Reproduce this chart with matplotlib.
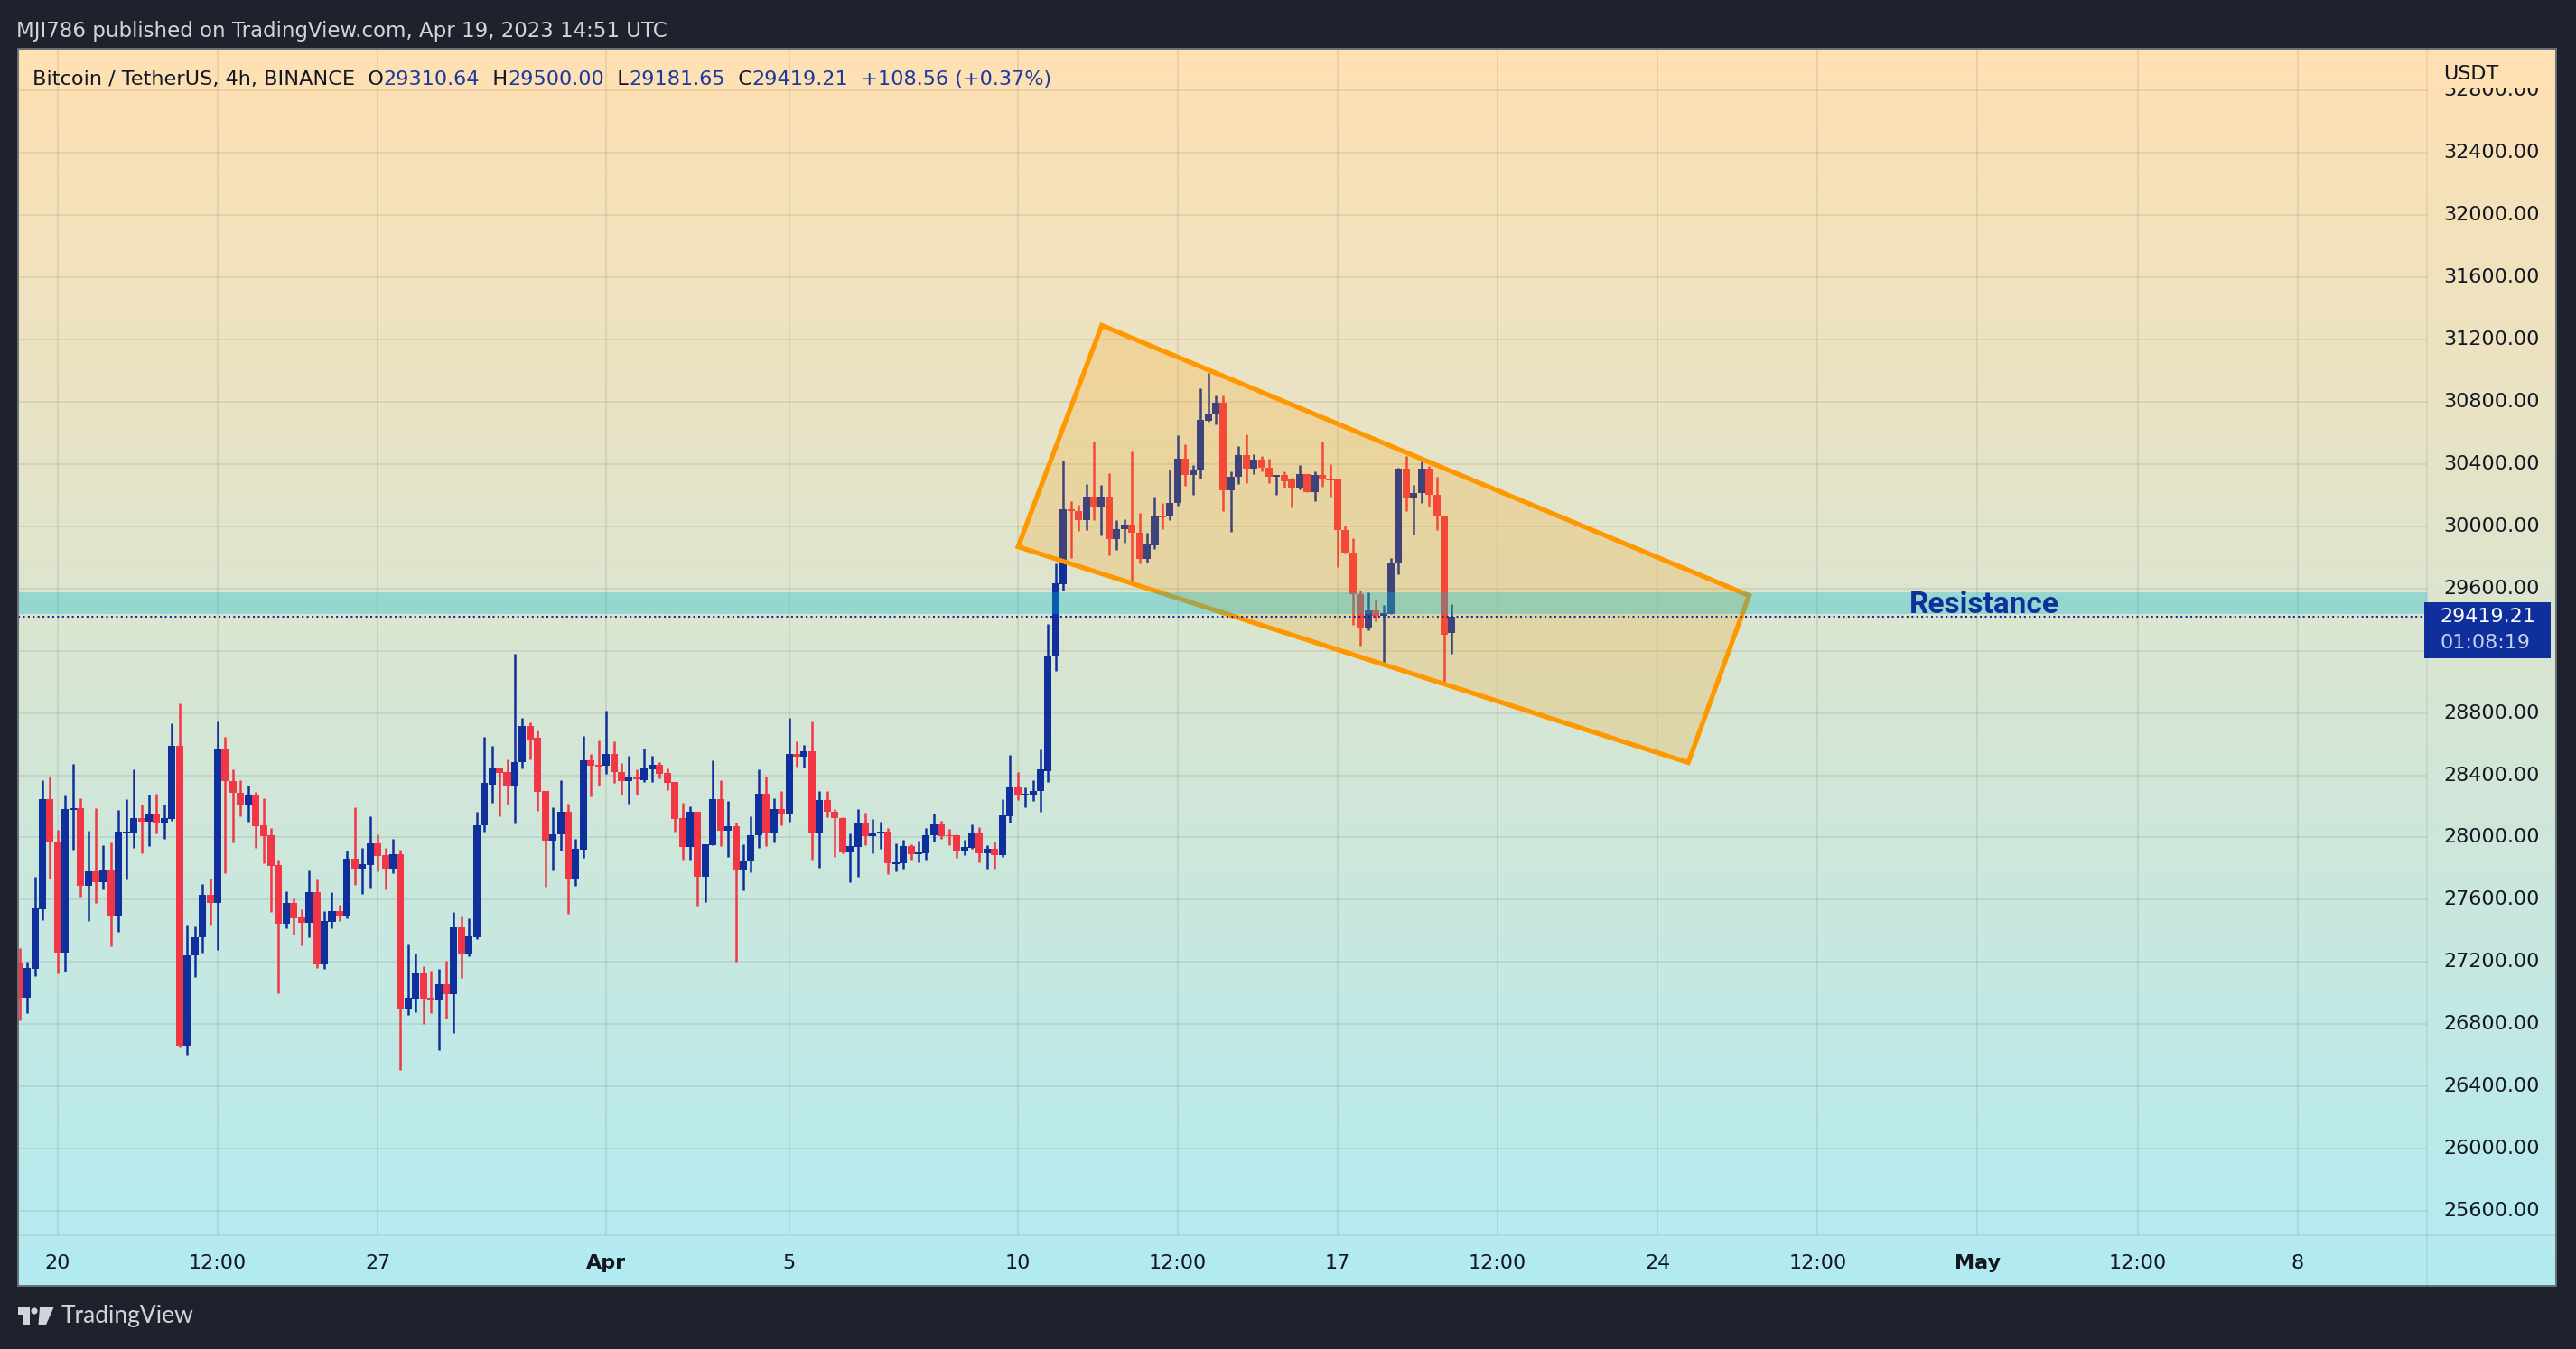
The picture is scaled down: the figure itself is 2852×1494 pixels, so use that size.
import numpy as np
import pandas as pd
import matplotlib
matplotlib.use("Agg")
import matplotlib.pyplot as plt
import matplotlib.dates as mdates
from matplotlib.patches import Polygon, Rectangle, Circle

# BTCUSDT 4h candles, 2023-03-19 04:00 -> 2023-04-19 12:00
start_time = "2023-03-19 04:00"
opens = [27193, 26969, 27158, 27539, 28249, 27973, 27260, 28178, 28188, 27689,
         27780, 27712, 27786, 27496, 28029, 28029, 28122, 28101, 28151, 28093,
         28116, 28591, 26661, 27245, 27357, 27629, 27579, 28574, 28362, 28288,
         28211, 28273, 28076, 28012, 27821, 27444, 27579, 27486, 27450, 27647,
         27183, 27457, 27525, 27496, 27861, 27797, 27821, 27965, 27884, 27797,
         27890, 26899, 26963, 27125, 26969, 26957, 27055, 26994, 27421, 27254,
         27357, 28076, 28342, 28441, 28418, 28336, 28487, 28719, 28638, 28296,
         27977, 28018, 28163, 27728, 27921, 28493, 28466, 28460, 28539, 28423,
         28365, 28394, 28371, 28440, 28469, 28412, 28354, 28122, 27938, 28168,
         27747, 27950, 28249, 28042, 28075, 27793, 27845, 28014, 28284, 28025,
         28185, 28156, 28539, 28518, 28551, 28025, 28238, 28168, 28127, 27903,
         27938, 28089, 28008, 28025, 28037, 27830, 27834, 27944, 27892, 27897,
         28014, 28083, 28014, 28014, 27915, 27932, 28025, 27897, 27927, 27886,
         28135, 28319, 28269, 28272, 28296, 28429, 29163, 29627, 30108, 30098,
         30040, 30187, 30118, 30191, 29915, 29979, 30012, 29959, 29789, 29878,
         30068, 30062, 30149, 30433, 30326, 30361, 30678, 30723, 30794, 30230,
         30317, 30458, 30369, 30427, 30375, 30317, 30326, 30297, 30240, 30336,
         30216, 30326, 30301, 30297, 29973, 29832, 29563, 29347, 29461, 29422,
         29438, 29766, 30369, 30176, 30211, 30369, 30201, 30066, 29310.64]
highs = [27287, 27200, 27747, 28371, 28389, 28052, 28267, 28470, 28255, 28041,
         28188, 27948, 27967, 28174, 28244, 28435, 28209, 28278, 28284, 28209,
         28731, 28864, 27438, 27426, 27699, 27734, 28748, 28644, 28435, 28371,
         28331, 28290, 28250, 28058, 27855, 27652, 27606, 27539, 27786, 27728,
         27525, 27647, 27566, 27913, 28192, 27931, 28139, 28018, 27931, 27994,
         27919, 27311, 27253, 27171, 27142, 27154, 27206, 27519, 27490, 27479,
         28163, 28644, 28586, 28452, 28499, 29180, 28771, 28742, 28690, 28296,
         28192, 28371, 28215, 27989, 28655, 28539, 28626, 28817, 28620, 28481,
         28522, 28440, 28574, 28527, 28487, 28446, 28359, 28226, 28199, 28168,
         27959, 28498, 28371, 28232, 28093, 27959, 28139, 28440, 28394, 28255,
         28301, 28771, 28620, 28597, 28748, 28301, 28296, 28180, 28130, 28025,
         28182, 28162, 28116, 28100, 28060, 27961, 27984, 27954, 27979, 28060,
         28152, 28110, 28054, 28019, 27985, 28083, 28064, 27950, 27973, 28245,
         28530, 28423, 28319, 28371, 28568, 29374, 29762, 30423, 30160, 30137,
         30272, 30545, 30265, 30342, 30037, 30046, 30481, 30085, 29959, 30191,
         30149, 30365, 30585, 30525, 30394, 30887, 30983, 30839, 30839, 30350,
         30514, 30591, 30462, 30448, 30433, 30326, 30353, 30313, 30394, 30336,
         30353, 30545, 30400, 30307, 30002, 29921, 29588, 29577, 29529, 29496,
         29795, 30375, 30452, 30265, 30413, 30384, 30317, 30066, 29500.00]
lows = [26824, 26872, 27110, 27471, 27738, 27125, 27139, 27921, 27618, 27463,
        27579, 27666, 27299, 27394, 27730, 27933, 27898, 27944, 28025, 27994,
        28107, 26652, 26603, 27104, 27260, 27440, 27278, 27768, 27967, 28134,
        28099, 27931, 27832, 27519, 26997, 27415, 27374, 27305, 27357, 27160,
        27154, 27415, 27461, 27479, 27693, 27635, 27670, 27780, 27664, 27768,
        26505, 26859, 26876, 26800, 26870, 26632, 26835, 26742, 27096, 27235,
        27345, 28035, 28226, 28134, 28209, 28087, 28441, 28499, 28170, 27681,
        27786, 27913, 27507, 27687, 27867, 28263, 28336, 28408, 28350, 28278,
        28215, 28278, 28354, 28354, 28377, 28302, 28037, 27857, 27857, 27561,
        27585, 27950, 27944, 27874, 27202, 27660, 27776, 27932, 27944, 27967,
        28077, 28100, 28454, 28448, 27857, 27805, 28129, 27874, 27900, 27712,
        27747, 27950, 27898, 27926, 27764, 27781, 27799, 27857, 27840, 27857,
        27973, 27990, 27950, 27868, 27886, 27926, 27839, 27799, 27799, 27874,
        28095, 28240, 28193, 28234, 28168, 28354, 29070, 29588, 29793, 29967,
        29973, 30037, 29940, 29810, 29847, 29892, 29646, 29758, 29766, 29851,
        29979, 30037, 30133, 30259, 30201, 30303, 30670, 30651, 30095, 29963,
        30268, 30278, 30336, 30350, 30278, 30199, 30249, 30118, 30234, 30216,
        30158, 30255, 30187, 29735, 29828, 29364, 29235, 29331, 29389, 29119,
        29438, 29689, 30095, 29944, 30147, 30124, 29975, 29003, 29181.65]
closes = [26969, 27162, 27544, 28249, 27969, 27260, 28182, 28186, 27689, 27780,
          27712, 27786, 27496, 28035, 28039, 28122, 28101, 28151, 28093, 28122,
          28591, 26661, 27245, 27357, 27629, 27579, 28574, 28362, 28288, 28211,
          28273, 28072, 28008, 27817, 27444, 27579, 27481, 27450, 27647, 27183,
          27461, 27525, 27496, 27861, 27797, 27826, 27965, 27879, 27797, 27890,
          26899, 26969, 27125, 26963, 26957, 27055, 26994, 27421, 27254, 27363,
          28081, 28348, 28441, 28414, 28336, 28487, 28719, 28632, 28290, 27977,
          28023, 28163, 27728, 27925, 28493, 28460, 28456, 28539, 28418, 28365,
          28394, 28375, 28446, 28469, 28406, 28350, 28118, 27938, 28168, 27747,
          27955, 28249, 28042, 28075, 27793, 27851, 28017, 28284, 28025, 28185,
          28156, 28539, 28518, 28551, 28025, 28238, 28164, 28124, 27903, 27944,
          28089, 28008, 28031, 28037, 27834, 27839, 27944, 27892, 27901, 28017,
          28083, 28008, 28006, 27915, 27938, 28025, 27897, 27927, 27886, 28141,
          28319, 28269, 28278, 28301, 28435, 29167, 29631, 30110, 30095, 30040,
          30187, 30118, 30191, 29915, 29983, 30012, 29955, 29789, 29882, 30062,
          30056, 30149, 30433, 30326, 30365, 30684, 30725, 30794, 30230, 30317,
          30458, 30369, 30427, 30375, 30317, 30326, 30288, 30240, 30336, 30216,
          30326, 30297, 30294, 29973, 29828, 29563, 29347, 29461, 29422, 29443,
          29766, 30369, 30176, 30214, 30369, 30201, 30066, 29302, 29419.21]

# drawings
channel_times = ["2023-04-11 20:10", "2023-04-10 00:15", "2023-04-24 16:05", "2023-04-26 00:00"]
channel_prices = [31289, 29867, 28481, 29554]
resistance_low, resistance_high = 29437, 29577
resistance_label_time, resistance_label_price = "2023-05-01 03:20", 29495

x_ticks = ["2023-03-20 00:00", "2023-03-23 12:00", "2023-03-27 00:00", "2023-04-01 00:00",
           "2023-04-05 00:00", "2023-04-10 00:00", "2023-04-13 12:00", "2023-04-17 00:00",
           "2023-04-20 12:00", "2023-04-24 00:00", "2023-04-27 12:00", "2023-05-01 00:00",
           "2023-05-04 12:00", "2023-05-08 00:00"]
x_labels = ["20", "12:00", "27", "Apr", "5", "10", "12:00", "17", "12:00", "24",
            "12:00", "May", "12:00", "8"]
y_ticks = list(range(25600, 32801, 400))

W, H = 2852, 1494
BG = "#1E222D"
UP = "#0E2F9C"
DOWN = "#F23645"
TXT = "#131722"
VAL = "#1B3A9E"

times = pd.date_range(start_time, periods=len(opens), freq="4h")
x = mdates.date2num(times)
o, h, l, c = map(np.array, (opens, highs, lows, closes))
up = c >= o
cols = np.where(up, UP, DOWN)

fig = plt.figure(figsize=(W / 100, H / 100), dpi=100, facecolor=BG)


def fr(px0, py0, px1, py1):
    return [px0 / W, 1 - py1 / H, (px1 - px0) / W, (py1 - py0) / H]


def to_num(strings):
    return mdates.date2num(pd.to_datetime(strings, format="%Y-%m-%d %H:%M"))


# gradient background of the chart box
top_col = np.array([255, 224, 178]) / 255
bot_col = np.array([178, 235, 242]) / 255
ax_bg = fig.add_axes(fr(20, 54, 2830, 1424))
t = np.linspace(0, 1, 400)[:, None]
grad = (top_col[None, :] * (1 - t) + bot_col[None, :] * t)[:, None, :]
ax_bg.imshow(grad, aspect="auto", extent=[0, 1, 0, 1], origin="upper")
ax_bg.axis("off")

y_top, y_bot = 33066, 25445
day0 = mdates.date2num(pd.Timestamp("2023-03-20"))
x_left, x_right = day0 - 0.866, day0 + 51.83

ax = fig.add_axes(fr(20, 54, 2687, 1368))
ax.set_facecolor("none")
for s in ax.spines.values():
    s.set_visible(False)
ax.set_xticks(to_num(x_ticks))
ax.set_xticklabels(x_labels, fontsize=16, color=TXT)
for lab in ax.get_xticklabels():
    if lab.get_text() in ("Apr", "May"):
        lab.set_fontweight("bold")
ax.set_yticks(y_ticks)
ax.set_yticklabels([])
ax.tick_params(length=0, pad=15)
ax.grid(True, color="#000000", alpha=0.07, lw=1.4)
ax.set_axisbelow(True)

# candles
ax.vlines(x, l, h, colors=cols, lw=1.8, zorder=2)
body_h = np.maximum(np.abs(c - o), 10)
ax.bar(x, body_h, bottom=np.minimum(o, c), width=0.95 / 6, color=cols, lw=0, zorder=2)

# falling channel drawing
pts = np.column_stack([to_num(channel_times), channel_prices])
ax.add_patch(Polygon(pts, closed=True, facecolor=(1, 0.596, 0, 0.2),
                     edgecolor="#FF9800", lw=3.8, joinstyle="miter", zorder=3))

# resistance zone
ax.axhspan(resistance_low, resistance_high, color=(0, 0.737, 0.831), alpha=0.32, lw=0, zorder=4)
ax.text(to_num([resistance_label_time])[0], resistance_label_price,
        "Resistance", color=UP, fontsize=24, fontweight="bold", family="Roboto",
        ha="center", va="center", zorder=6)

# last price line
ax.axhline(closes[-1], color=UP, lw=1.5, linestyle=(0, (1, 1.6)), zorder=5)
ax.set_xlim(x_left, x_right)
ax.set_ylim(y_bot, y_top)

# price scale (the 29200 label sits under the last-price box)
ax_p = fig.add_axes(fr(2687, 54, 2830, 1368))
ax_p.set_xlim(0, 1)
ax_p.set_ylim(y_bot, y_top)
ax_p.axis("off")
for p in y_ticks:
    if p == 29200:
        continue
    ax_p.text(0.126, p, f"{p:.2f}", fontsize=16, color=TXT, ha="left", va="center")
cover = top_col * 0.985 + bot_col * 0.015
ax_p.add_patch(Rectangle((0, 32811), 1, y_top - 32811, facecolor=cover, lw=0, zorder=3))
ax_p.text(0.126, 32905, "USDT", fontsize=16, color=TXT, ha="left", va="center", zorder=4)
ax_p.add_patch(Rectangle((-0.02, 29151), 0.975, 360, facecolor=UP, lw=0, zorder=5, clip_on=False))
ax_p.text(0.10, closes[-1], f"{closes[-1]:.2f}", fontsize=16, color="white",
          ha="left", va="center", zorder=6)
ax_p.text(0.10, 29251, "01:08:19", fontsize=16, color="#C8CFEA",
          ha="left", va="center", zorder=6)

# overlay in pixel coordinates
ov = fig.add_axes([0, 0, 1, 1])
ov.set_xlim(0, W)
ov.set_ylim(H, 0)
ov.axis("off")
ov.set_facecolor("none")
ov.plot([2687, 2687], [54, 1424], color="#000000", alpha=0.06, lw=1.4)
ov.plot([20, 2830], [1368, 1368], color="#000000", alpha=0.06, lw=1.4)
ov.add_patch(Rectangle((20, 54), 2810, 1370, fill=False, edgecolor="#6A7078", lw=1.4))

ov.text(18, 34, "MJI786 published on TradingView.com, Apr 19, 2023 14:51 UTC",
        color="#D1D4DC", fontsize=16.5, ha="left", va="center")

pieces = [("Bitcoin / TetherUS, 4h, BINANCE", TXT), ("  O", TXT), ("29310.64", VAL),
          ("  H", TXT), ("29500.00", VAL), ("  L", TXT), ("29181.65", VAL),
          ("  C", TXT), ("29419.21", VAL), ("  +108.56 (+0.37%)", VAL)]
fig.canvas.draw()
r = fig.canvas.get_renderer()
xp = 36
for txt, col in pieces:
    tt = ov.text(xp, 88, txt, color=col, fontsize=16.1, ha="left", va="center")
    bb = tt.get_window_extent(renderer=r)
    xp += bb.width

# footer logo
logo = "#D1D4DC"
ov.add_patch(Rectangle((20, 1448), 13.3, 7.5, facecolor=logo, lw=0))
ov.add_patch(Rectangle((26, 1448), 7.3, 19, facecolor=logo, lw=0))
ov.add_patch(Circle((38, 1452), 3.6, facecolor=logo, lw=0))
ov.add_patch(Polygon([(44, 1448), (59.5, 1448), (51, 1467), (42.5, 1467)], facecolor=logo, lw=0))
ov.text(68, 1458, "TradingView", color=logo, fontsize=19, family="Lato", ha="left", va="center")

fig.savefig("out.png", dpi=100, facecolor=BG)
